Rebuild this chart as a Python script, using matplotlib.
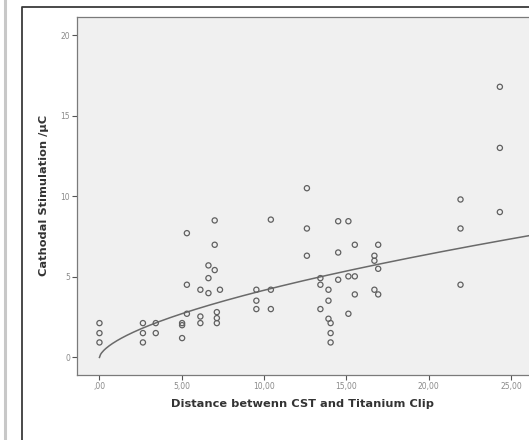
import matplotlib
matplotlib.use("Agg")
import matplotlib.pyplot as plt
import numpy as np
from matplotlib.lines import Line2D

# Data
distance = [0.0, 0.0, 0.0,
            2.64, 2.64, 2.64,
            3.42, 3.42,
            5.02, 5.02, 5.02,
            5.31, 5.31, 5.31,
            6.13, 6.13, 6.13,
            6.62, 6.62, 6.62,
            7.00, 7.00, 7.00,
            7.13, 7.13, 7.13,
            7.32,
            9.53, 9.53, 9.53,
            10.41, 10.41, 10.41,
            12.60, 12.60, 12.60,
            13.42, 13.42, 13.42,
            13.91, 13.91, 13.91,
            14.04, 14.04, 14.04,
            14.50, 14.50, 14.50,
            15.12, 15.12, 15.12,
            15.51, 15.51, 15.51,
            16.70, 16.70, 16.70,
            16.93, 16.93, 16.93,
            21.93, 21.93, 21.93,
            24.32, 24.32, 24.32]
stimulation = [2.13, 1.51, 0.93,
               2.13, 1.51, 0.93,
               2.13, 1.51,
               2.13, 2.00, 1.20,
               7.71, 4.51, 2.71,
               4.20, 2.54, 2.13,
               5.71, 4.92, 3.99,
               8.50, 6.99, 5.42,
               2.81, 2.44, 2.13,
               4.20,
               4.20, 3.52, 3.00,
               8.55, 4.20, 3.00,
               10.50, 8.00, 6.31,
               4.92, 4.51, 3.00,
               4.20, 3.52, 2.40,
               2.13, 1.51, 0.93,
               8.45, 6.51, 4.82,
               8.45, 5.03, 2.71,
               6.99, 5.03, 3.91,
               6.31, 6.00, 4.20,
               6.99, 5.50, 3.91,
               9.80, 8.00, 4.51,
               16.79, 13.00, 9.02]

# Fitted power curve parameters (y = a * x^b)
fit_a = 1.0
fit_b = 0.62

x_ticks = [0, 5, 10, 15, 20, 25]
x_tick_labels = [",00", "5,00", "10,00", "15,00", "20,00", "25,00"]
y_ticks = [0, 5, 10, 15, 20]
y_tick_labels = ["0", "5", "10", "15", "20"]

W, H = 529, 440
fig = plt.figure(figsize=(W / 100, H / 100), dpi=100)
fig.patch.set_facecolor("white")

# outer decorations: gray strip and dark frame
fig.add_artist(Line2D([4.5 / W, 4.5 / W], [0, 1], transform=fig.transFigure,
                      color="#c8c8c8", lw=2.2))
fig.add_artist(Line2D([21.5 / W, 21.5 / W, 1.05], [-0.05, 1 - 7.5 / H, 1 - 7.5 / H],
                      transform=fig.transFigure, color="#3a3a3a", lw=1.3))

ax_left = 76.9 / W
ax_bottom = (H - 375) / H
ax_top = 1 - 16.7 / H
ax = fig.add_axes([ax_left, ax_bottom, 1.0 - ax_left, ax_top - ax_bottom])
ax.set_facecolor("#f0f0f0")

ax.scatter(distance, stimulation, s=14, facecolors="none", edgecolors="#606060",
           linewidths=0.9, zorder=3)

xc = np.linspace(0, 26.5, 400)
ax.plot(xc, fit_a * xc ** fit_b, color="#6a6a6a", lw=1.1, zorder=2)

ax.set_xlim(-1.37, 26.09)
ax.set_ylim(-1.09, 21.14)

ax.set_xticks(x_ticks)
ax.set_xticklabels(x_tick_labels)
ax.set_yticks(y_ticks)
ax.set_yticklabels(y_tick_labels)
ax.tick_params(axis="both", direction="out", length=3.5, width=0.8,
               color="#555555", labelcolor="#8a8a8a", labelsize=5.5, pad=1.5)

for side in ["left", "bottom", "top"]:
    ax.spines[side].set_color("#7a7a7a")
    ax.spines[side].set_linewidth(0.9)
ax.spines["right"].set_visible(False)

ax.set_xlabel("Distance betwenn CST and Titanium Clip", fontsize=8.2,
              fontweight="bold", color="#333333", labelpad=6)
ax.set_ylabel("Cathodal Stimulation /μC", fontsize=8.2,
              fontweight="bold", color="#333333", labelpad=8)

fig.savefig("out.png", dpi=100)
